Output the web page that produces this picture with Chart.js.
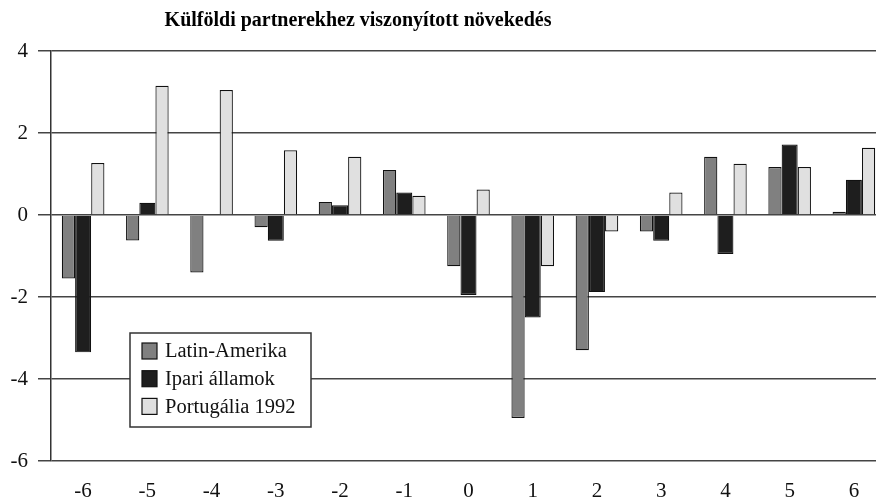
<!DOCTYPE html>
<html>
<head>
<meta charset="utf-8">
<script src="https://cdn.jsdelivr.net/npm/chart.js@4"></script>
<style>
  html, body { margin: 0; padding: 0; background: #fff; overflow: hidden; }
  #wrap { width: 886px; height: 499px; }
</style>
</head>
<body>
<div id="wrap"><canvas id="myChart" width="886" height="499"></canvas></div>
<script>
const title = 'Külföldi partnerekhez viszonyított növekedés';
const categories = ['-6', '-5', '-4', '-3', '-2', '-1', '0', '1', '2', '3', '4', '5', '6'];
const latinAmerika = [-1.55, -0.62, -1.4, -0.3, 0.32, 1.1, -1.25, -4.95, -3.3, -0.4, 1.42, 1.17, 0.08];
const ipariAllamok = [-3.35, 0.3, 0, -0.63, 0.24, 0.55, -1.95, -2.5, -1.88, -0.63, -0.95, 1.72, 0.86];
const portugalia = [1.27, 3.15, 3.05, 1.58, 1.42, 0.47, 0.62, -1.25, -0.4, 0.55, 1.25, 1.17, 1.64];
const yTicks = [-6, -4, -2, 0, 2, 4];

const serif = 'Liberation Serif';
const ctx = document.getElementById('myChart');

// title + legend box drawn by hand (legend sits inside the plot)
const extras = {
  id: 'extras',
  afterDraw(chart) {
    const c = chart.ctx;
    c.save();
    c.fillStyle = '#000';
    c.font = 'bold 20px "' + serif + '"';
    c.textAlign = 'center';
    c.textBaseline = 'alphabetic';
    c.fillText(title, 358, 26);

    const bx = 130, by = 333, bw = 181, bh = 94;
    c.fillStyle = '#fff';
    c.fillRect(bx, by, bw, bh);
    c.strokeStyle = '#333';
    c.lineWidth = 1.5;
    c.strokeRect(bx, by, bw, bh);
    c.font = '20.5px "' + serif + '"';
    c.textAlign = 'left';
    c.textBaseline = 'middle';
    chart.data.datasets.forEach((ds, i) => {
      const y = by + 10 + i * 27.7;
      c.fillStyle = ds.backgroundColor;
      c.fillRect(142, y, 15, 16);
      c.strokeStyle = '#111';
      c.lineWidth = 1.2;
      c.strokeRect(142, y, 15, 16);
      c.fillStyle = '#111';
      c.fillText(ds.label, 165, y + 9);
    });
    c.restore();
  }
};

const data = {
  labels: categories,
  datasets: [{
    label: 'Latin-Amerika',
    data: latinAmerika,
    backgroundColor: '#808080',
    borderColor: '#111',
    borderWidth: 1.2,
    barPercentage: 0.9
  }, {
    label: 'Ipari államok',
    data: ipariAllamok,
    backgroundColor: '#1e1e1e',
    borderColor: '#111',
    borderWidth: 1.2,
    barPercentage: 1.09
  }, {
    label: 'Portugália 1992',
    data: portugalia,
    backgroundColor: '#e0e0e0',
    borderColor: '#111',
    borderWidth: 1.2,
    barPercentage: 0.9
  }]
};

const config = {
  type: 'bar',
  data: data,
  options: {
    responsive: false,
    animation: false,
    devicePixelRatio: 1,
    categoryPercentage: 0.686,
    layout: { padding: { top: 51, right: 0, bottom: 0, left: 0 } },
    plugins: {
      legend: { display: false },
      title: { display: false },
      tooltip: { enabled: false }
    },
    scales: {
      x: {
        grid: { display: false },
        border: { display: false },
        ticks: {
          color: '#111',
          padding: 10,
          font: { family: serif, size: 21 }
        },
        afterFit(scale) { scale.height = 38; }
      },
      y: {
        min: -6,
        max: 4,
        afterBuildTicks(scale) { scale.ticks = yTicks.map(v => ({ value: v })); },
        grid: { color: '#444', lineWidth: 1.5, tickLength: 13 },
        border: { display: true, color: '#333', width: 1.5 },
        ticks: {
          color: '#111',
          padding: 10,
          font: { family: serif, size: 21 }
        },
        afterFit(scale) { scale.width = 51; }
      }
    }
  },
  plugins: [extras]
};

const myChart = new Chart(ctx, config);
</script>
</body>
</html>
